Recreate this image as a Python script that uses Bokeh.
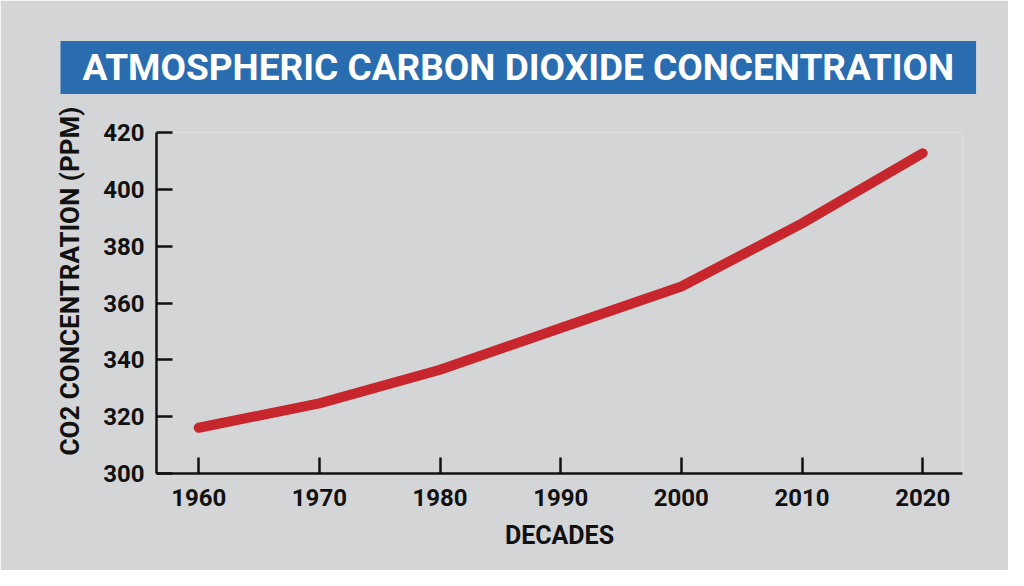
from bokeh.plotting import figure
from bokeh.models import FixedTicker, Title
from bokeh.embed import file_html
from bokeh.resources import INLINE

# Data
decades = [1960, 1970, 1980, 1990, 2000, 2010, 2020]
co2_ppm = [316.1, 324.7, 336.5, 351.2, 365.8, 388.0, 412.7]
x_ticks = [1960, 1970, 1980, 1990, 2000, 2010, 2020]
y_ticks = [300, 320, 340, 360, 380, 400, 420]

title_text = "ATMOSPHERIC CARBON DIOXIDE CONCENTRATION"
x_label = "DECADES"
y_label = "CO2 CONCENTRATION (PPM)"
bg = "#d4d5d7"
font = "Roboto"

p = figure(width=1008, height=570, x_range=(1956.5, 2023.3), y_range=(300, 420),
           title=title_text, output_backend="svg", toolbar_location=None,
           min_border_left=156, min_border_right=46, min_border_top=130, min_border_bottom=97,
           background_fill_color=bg, border_fill_color=bg, outline_line_color=None)

p.line(decades, co2_ppm, line_width=10, line_color="#c8262d", line_cap="round", line_join="round")

p.grid.visible = False

# Axes
for ax in (p.xaxis, p.yaxis):
    ax.axis_line_width = 2.5
    ax.axis_line_color = "#111111"
    ax.major_tick_line_width = 2.5
    ax.major_tick_line_color = "#111111"
    ax.major_tick_in = 16
    ax.major_tick_out = 0
    ax.minor_tick_line_color = None
    ax.major_label_text_font = font
    ax.major_label_text_font_style = "bold"
    ax.major_label_text_font_size = "24px"
    ax.major_label_text_color = "#111111"
    ax.axis_label_text_font = font
    ax.axis_label_text_font_style = "bold"
    ax.axis_label_text_font_size = "25px"
    ax.axis_label_text_color = "#111111"

p.xaxis.ticker = FixedTicker(ticks=x_ticks)
p.yaxis.ticker = FixedTicker(ticks=y_ticks)
p.xaxis.major_label_standoff = 15
p.yaxis.major_label_standoff = 12
p.xaxis.axis_label = x_label
p.xaxis.axis_label_standoff = 12

# Y label as a side title so it can sit a little above the frame centre
y_title = Title(text=y_label, align="left", offset=18, standoff=32,
                text_font=font, text_font_style="bold", text_font_size="26px",
                text_color="#111111")
p.add_layout(y_title, "left")

# Title bar (blue box around the title text)
p.title.align = "left"
p.title.offset = -96
p.title.standoff = 77
p.title.text_font = font
p.title.text_font_style = "bold"
p.title.text_font_size = "37px"
p.title.text_color = "white"
p.title.background_fill_color = "#2a6cb0"
p.title.padding = (22, 5)

open("out.html", "w").write(file_html(p, INLINE))
